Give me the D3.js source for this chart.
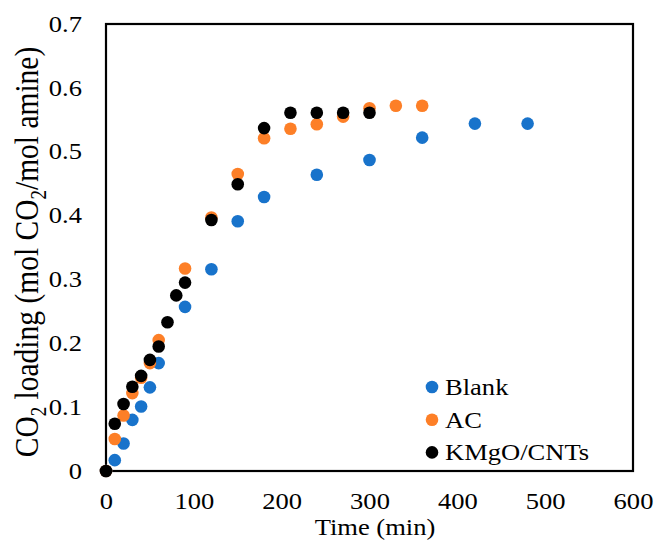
<!DOCTYPE html>
<html>
<head>
<meta charset="utf-8">
<script src="https://cdn.jsdelivr.net/npm/d3@7"></script>
<style>
  body { margin: 0; background: #fff; }
  text { font-family: "Liberation Serif", "Times New Roman", serif; fill: #000; }
</style>
</head>
<body>
<script>
// time (min) and CO2 loading for each series
var blankTime = [0, 10, 20, 30, 40, 50, 60, 90, 120, 150, 180, 240, 300, 360, 420, 480];
var blankLoad = [0, 0.017, 0.043, 0.080, 0.101, 0.131, 0.169, 0.257, 0.316, 0.391, 0.429, 0.464, 0.487, 0.522, 0.544, 0.544];

var acTime = [0, 10, 20, 30, 40, 50, 60, 90, 120, 150, 180, 210, 240, 270, 300, 330, 360];
var acLoad = [0, 0.050, 0.087, 0.122, 0.146, 0.169, 0.205, 0.317, 0.397, 0.465, 0.521, 0.536, 0.543, 0.555, 0.568, 0.572, 0.572];

var cntTime = [0, 10, 20, 30, 40, 50, 60, 70, 80, 90, 120, 150, 180, 210, 240, 270, 300];
var cntLoad = [0, 0.074, 0.105, 0.132, 0.149, 0.174, 0.195, 0.233, 0.275, 0.295, 0.393, 0.449, 0.537, 0.561, 0.561, 0.561, 0.561];

var seriesNames = ["Blank", "AC", "KMgO/CNTs"];
var xTicks = [0, 100, 200, 300, 400, 500, 600];
var yTicks = [0, 0.1, 0.2, 0.3, 0.4, 0.5, 0.6, 0.7];

var colors = ["#1873cb", "#fd7f27", "#000000"];

var series = [
  { name: seriesNames[0], t: blankTime, v: blankLoad, color: colors[0] },
  { name: seriesNames[1], t: acTime, v: acLoad, color: colors[1] },
  { name: seriesNames[2], t: cntTime, v: cntLoad, color: colors[2] }
];

var width = 656, height = 542;
var margin = { top: 24, right: 23, bottom: 71, left: 106 };
var stretch = 1.17; // the original glyphs are a bit wider than tall

var svg = d3.select("body").append("svg")
  .attr("width", width)
  .attr("height", height);

var x = d3.scaleLinear().domain([0, 600]).range([margin.left, width - margin.right]);
var y = d3.scaleLinear().domain([0, 0.7]).range([height - margin.bottom, margin.top]);

// frame
svg.append("rect")
  .attr("x", x(0))
  .attr("y", y(0.7))
  .attr("width", x(600) - x(0))
  .attr("height", y(0) - y(0.7))
  .attr("fill", "none")
  .attr("stroke", "#000")
  .attr("stroke-width", 2.2);

// axes, labels only
var xAxis = svg.append("g")
  .attr("transform", "translate(0," + y(0) + ")")
  .call(d3.axisBottom(x).tickValues(xTicks).tickSize(0).tickPadding(22).tickFormat(d3.format("d")));
xAxis.select(".domain").remove();
xAxis.selectAll("text")
  .style("font-size", "22.7px").style("font-family", "Liberation Serif")
  .attr("transform", "scale(" + stretch + ",1)");

var yAxis = svg.append("g")
  .attr("transform", "translate(" + x(0) + ",0)")
  .call(d3.axisLeft(y).tickValues(yTicks).tickSize(0).tickPadding(24)
    .tickFormat(function(d) { return d === 0 ? "0" : d3.format(".1f")(d); }));
yAxis.select(".domain").remove();
yAxis.selectAll("text")
  .style("font-size", "22.7px").style("font-family", "Liberation Serif")
  .attr("x", -24 / stretch)
  .attr("transform", "scale(" + stretch + ",1)");

// points
series.forEach(function(s) {
  svg.append("g").selectAll("circle")
    .data(s.t.map(function(t, i) { return [t, s.v[i]]; }))
    .join("circle")
    .attr("cx", function(d) { return x(d[0]); })
    .attr("cy", function(d) { return y(d[1]); })
    .attr("r", 6.3)
    .attr("fill", s.color);
});

// axis titles
svg.append("text")
  .attr("transform", "translate(375,535) scale(" + stretch + ",1)")
  .attr("text-anchor", "middle")
  .style("font-size", "22.7px")
  .text("Time (min)");

var yt = svg.append("text")
  .attr("transform", "translate(37.5,252) rotate(-90) scale(1," + stretch + ")")
  .attr("text-anchor", "middle")
  .style("font-size", "29.5px");
yt.append("tspan").text("CO");
yt.append("tspan").attr("dy", 7).style("font-size", "19px").text("2");
yt.append("tspan").attr("dy", -7).text(" loading (mol CO");
yt.append("tspan").attr("dy", 7).style("font-size", "19px").text("2");
yt.append("tspan").attr("dy", -7).text("/mol amine)");

// legend
var legend = svg.append("g").selectAll("g")
  .data(series)
  .join("g")
  .attr("transform", function(d, i) { return "translate(432," + (387 + i * 32.7) + ")"; });
legend.append("circle").attr("r", 6.3).attr("fill", function(d) { return d.color; });
legend.append("text")
  .attr("transform", "translate(13,8) scale(" + stretch + ",1)")
  .style("font-size", "22.7px")
  .text(function(d) { return d.name; });
</script>
</body>
</html>
